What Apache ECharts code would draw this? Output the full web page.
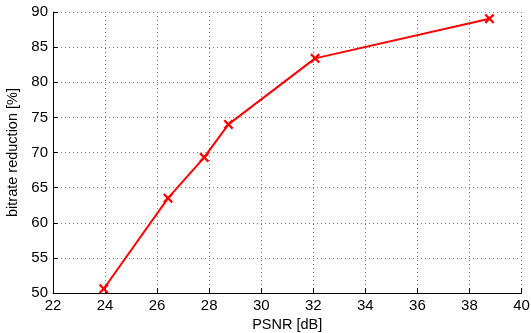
<!DOCTYPE html>
<html>
<head>
<meta charset="utf-8">
<script src="https://cdn.jsdelivr.net/npm/echarts@6/dist/echarts.min.js"></script>
<style>html,body{margin:0;padding:0;background:#fff}#c{width:531px;height:333px}</style>
</head>
<body>
<div id="c"></div>
<script>
const psnr = [23.95, 26.42, 27.81, 28.74, 32.07, 38.77];
const bitrateReduction = [50.6, 63.5, 69.3, 74.0, 83.4, 89.05];
const xTicks = {min: 22, max: 40, interval: 2};
const yTicks = {min: 50, max: 90, interval: 5};

const chart = echarts.init(document.getElementById('c'), null, {renderer: 'canvas'});
const font = 'Liberation Sans, Arial, Helvetica, sans-serif';
const cross = 'path://M1.6,0 L5,3.4 L8.4,0 L10,1.6 L6.6,5 L10,8.4 L8.4,10 L5,6.6 L1.6,10 L0,8.4 L3.4,5 L0,1.6 Z';
chart.setOption({
  animation: false,
  backgroundColor: '#fff',
  grid: {left: 53, right: 9.5, top: 12, bottom: 40, containLabel: false, outerBoundsMode: 'none'},
  xAxis: {
    type: 'value', min: xTicks.min, max: xTicks.max, interval: xTicks.interval,
    name: 'PSNR [dB]', nameLocation: 'middle', nameGap: 21,
    nameTextStyle: {color: '#000', fontSize: 14.5, fontFamily: font},
    axisLine: {show: true, onZero: false, lineStyle: {color: '#000', width: 1}},
    axisTick: {show: true, inside: true, length: 5, lineStyle: {color: '#000'}},
    axisLabel: {color: '#000', fontSize: 15, fontFamily: font, margin: 5},
    splitLine: {show: true, lineStyle: {color: '#777', type: [1, 3], width: 1}}
  },
  yAxis: {
    type: 'value', min: yTicks.min, max: yTicks.max, interval: yTicks.interval,
    name: 'bitrate reduction [%]', nameLocation: 'middle', nameGap: 30,
    nameTextStyle: {color: '#000', fontSize: 14.5, fontFamily: font},
    axisLine: {show: true, onZero: false, lineStyle: {color: '#000', width: 1}},
    axisTick: {show: true, inside: true, length: 5, lineStyle: {color: '#000'}},
    axisLabel: {color: '#000', fontSize: 15, fontFamily: font, margin: 5},
    splitLine: {show: true, lineStyle: {color: '#777', type: [1, 3], width: 1}}
  },
  series: [{
    type: 'line',
    data: psnr.map((x, i) => [x, bitrateReduction[i]]),
    lineStyle: {color: '#ff0000', width: 2},
    itemStyle: {color: '#ff0000'},
    symbol: cross,
    symbolSize: 10,
    showAllSymbol: true,
    z: 3
  }]
});
</script>
</body>
</html>
